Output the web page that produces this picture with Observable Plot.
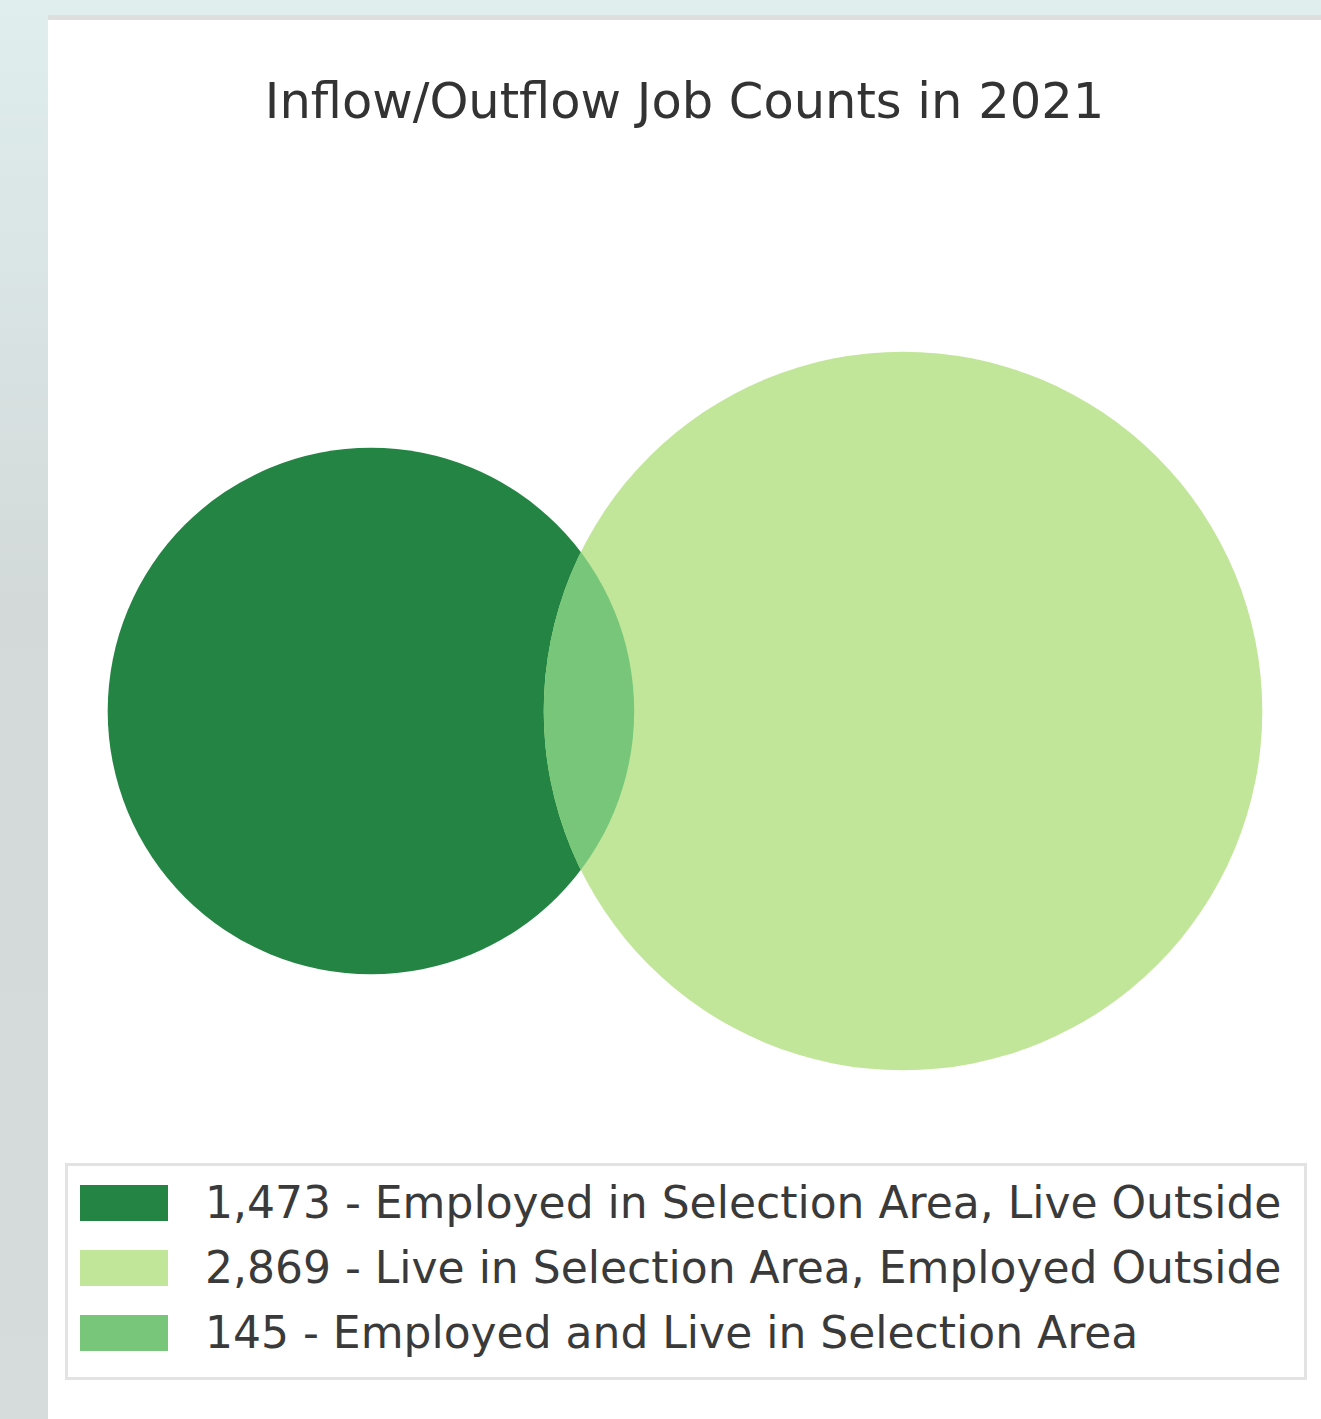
<!DOCTYPE html>
<html><head><meta charset="utf-8">
<script src="https://cdn.jsdelivr.net/npm/d3@7"></script>
<script src="https://cdn.jsdelivr.net/npm/@observablehq/plot@0.6"></script>
<style>
html,body{margin:0;padding:0;width:1321px;height:1419px;overflow:hidden;background:#d5dcdc;font-family:"DejaVu Sans",sans-serif;}
#bg{position:absolute;left:0;top:0;width:1321px;height:1419px;background:linear-gradient(180deg,#e0eeee 0px,#dae5e5 250px,#d3d9d9 600px,#d6dcdc 1419px);}
#panel{position:absolute;left:48px;top:15px;width:1273px;height:1399px;background:#fff;border-top:5px solid #dedede;}
#title{position:absolute;left:0;width:1273px;top:56px;text-align:center;font-size:49.5px;line-height:50px;color:#333;white-space:nowrap;}
#chart{position:absolute;left:0;top:180px;}
#legend{position:absolute;left:17px;top:1143px;width:1242px;height:217px;border:3px solid #e3e3e3;box-sizing:border-box;background:#fff;}
.row{position:absolute;left:12px;height:44px;display:flex;align-items:center;}
.sw{width:88px;height:36px;margin-right:37px;flex:none;}
.lbl{font-size:44px;line-height:44px;color:#3a3a3a;white-space:nowrap;}
</style>
</head><body>
<div id="bg"></div>
<div id="panel">
  <div id="title"></div>
  <div id="chart"></div>
  <div id="legend"></div>
</div>
<script>
// ---- data ----
const titleText = "Inflow/Outflow Job Counts in 2021";
const labels = ["Employed in Selection Area, Live Outside", "Live in Selection Area, Employed Outside", "Employed and Live in Selection Area"];
const counts = [1473, 2869, 145];
const colors = ["#238443", "#c2e699", "#78c679"];

// ---- layout from data (area-proportional Venn) ----
const areaA = counts[0] + counts[2];
const areaB = counts[1] + counts[2];
const rA = Math.sqrt(areaA / Math.PI), rB = Math.sqrt(areaB / Math.PI);
function lens(d) {
  if (d >= rA + rB) return 0;
  if (d <= Math.abs(rA - rB)) return Math.PI * Math.min(rA, rB) ** 2;
  const a1 = rA * rA * Math.acos((d * d + rA * rA - rB * rB) / (2 * d * rA));
  const a2 = rB * rB * Math.acos((d * d + rB * rB - rA * rA) / (2 * d * rB));
  const t = 0.5 * Math.sqrt((-d + rA + rB) * (d + rA - rB) * (d - rA + rB) * (d + rA + rB));
  return a1 + a2 - t;
}
let lo = Math.abs(rA - rB), hi = rA + rB;
for (let i = 0; i < 100; i++) { const m = (lo + hi) / 2; if (lens(m) > counts[2]) lo = m; else hi = m; }
const dist = (lo + hi) / 2;
const circles = [
  {set: "A", x: 0, y: 0, area: areaA},
  {set: "B", x: dist, y: 0, area: areaB}
];

// ---- chart ----
const W = 1273, H = 960, k = 11.6, cy = 510.5;
const mid = (-rA + dist + rB) / 2;
const plot = Plot.plot({
  width: W, height: H,
  margin: 0,
  x: {domain: [mid - W / 2 / k, mid + W / 2 / k], axis: null},
  y: {domain: [-(H - cy) / k, cy / k], axis: null},
  r: {type: "sqrt", domain: [0, areaB], range: [0, rB * k]},
  marks: [
    Plot.dot(circles.filter(d => d.set === "A"), {x: "x", y: "y", r: "area", fill: colors[0], stroke: "none"}),
    Plot.dot(circles.filter(d => d.set === "B"), {x: "x", y: "y", r: "area", fill: colors[1], stroke: "none"}),
    Plot.dot(circles.filter(d => d.set === "A"), {x: "x", y: "y", r: "area", fill: colors[2], stroke: "none"})
  ]
});
document.getElementById("chart").appendChild(plot);

// clip the third (intersection) circle to circle B to form the lens
const groups = plot.querySelectorAll("g[aria-label='dot']");
const ns = "http://www.w3.org/2000/svg";
const defs = document.createElementNS(ns, "defs");
const cp = document.createElementNS(ns, "clipPath");
cp.setAttribute("id", "clipB");
cp.appendChild(groups[1].querySelector("circle").cloneNode(true));
defs.appendChild(cp);
plot.insertBefore(defs, plot.firstChild);
groups[2].querySelector("circle").setAttribute("clip-path", "url(#clipB)");

// ---- title ----
document.getElementById("title").textContent = titleText;

// ---- legend ----
const legend = document.getElementById("legend");
const fmt = d3.format(",");
labels.forEach((lab, i) => {
  const row = document.createElement("div");
  row.className = "row";
  row.style.top = (15 + i * 65) + "px";
  const sw = document.createElement("div");
  sw.className = "sw";
  sw.style.background = colors[i];
  const t = document.createElement("div");
  t.className = "lbl";
  t.textContent = fmt(counts[i]) + " - " + lab;
  row.appendChild(sw); row.appendChild(t);
  legend.appendChild(row);
});
</script>
</body></html>
